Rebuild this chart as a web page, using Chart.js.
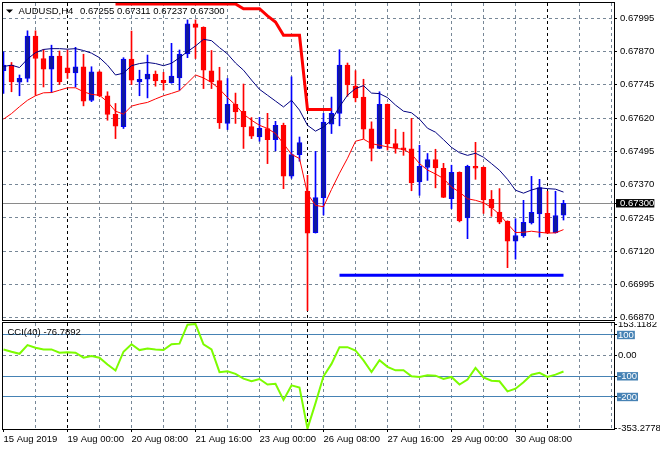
<!DOCTYPE html>
<html>
<head>
<meta charset="utf-8">
<script src="https://cdn.jsdelivr.net/npm/chart.js@4.4.0/dist/chart.umd.min.js"></script>
<style>
  html, body { margin: 0; padding: 0; background: #fff; }
  #wrap { position: relative; width: 660px; height: 450px; overflow: hidden; }
  #priceChart { position: absolute; left: 0; top: 0; }
  #cciChart { position: absolute; left: 0; top: 322px; }
</style>
</head>
<body>
<div id="wrap">
  <canvas id="priceChart" width="660" height="322"></canvas>
  <canvas id="cciChart" width="660" height="128"></canvas>
</div>
<script>
// AUDUSD H4, one bar every 4 hours (bar index 0..70)
const symbolName = 'AUDUSD,H4';
const lastQuote = ['0.67255', '0.67311', '0.67237', '0.67300'];

const openP = [
  0.67798, 0.67819, 0.67755, 0.67769, 0.67928, 0.67844, 0.67804, 0.67853, 0.67809, 0.67790,
  0.67813, 0.67686, 0.67794, 0.67704, 0.67634, 0.67588, 0.67842, 0.67756, 0.67766, 0.67785,
  0.67762, 0.67753, 0.67771, 0.67861, 0.67974, 0.67961, 0.67798, 0.67761, 0.67600, 0.67672,
  0.67645, 0.67588, 0.67549, 0.67581, 0.67539, 0.67593, 0.67402, 0.67483, 0.67346, 0.67190,
  0.67321, 0.67597, 0.67638, 0.67819, 0.67740, 0.67699, 0.67580, 0.67506, 0.67672, 0.67524,
  0.67508, 0.67505, 0.67380, 0.67435, 0.67464, 0.67431, 0.67317, 0.67416, 0.67245, 0.67439,
  0.67435, 0.67315, 0.67267, 0.67232, 0.67158, 0.67177, 0.67226, 0.67260, 0.67262, 0.67190,
  0.67255
];
const highP = [
  0.67869, 0.67829, 0.67782, 0.67948, 0.67948, 0.67878, 0.67894, 0.67872, 0.67876, 0.67886,
  0.67860, 0.67813, 0.67797, 0.67719, 0.67675, 0.67847, 0.67947, 0.67800, 0.67857, 0.67797,
  0.67792, 0.67901, 0.67876, 0.67989, 0.67989, 0.67963, 0.67874, 0.67811, 0.67769, 0.67714,
  0.67748, 0.67622, 0.67623, 0.67638, 0.67608, 0.67601, 0.67775, 0.67549, 0.67405, 0.67495,
  0.67638, 0.67699, 0.67877, 0.67827, 0.67798, 0.67766, 0.67606, 0.67719, 0.67673, 0.67578,
  0.67567, 0.67619, 0.67518, 0.67487, 0.67503, 0.67450, 0.67443, 0.67418, 0.67443, 0.67529,
  0.67437, 0.67348, 0.67355, 0.67234, 0.67242, 0.67311, 0.67401, 0.67390, 0.67345, 0.67345,
  0.67311
];
const lowP = [
  0.67713, 0.67719, 0.67704, 0.67756, 0.67706, 0.67737, 0.67716, 0.67746, 0.67769, 0.67737,
  0.67666, 0.67682, 0.67700, 0.67612, 0.67543, 0.67581, 0.67746, 0.67704, 0.67696, 0.67740,
  0.67725, 0.67751, 0.67725, 0.67847, 0.67844, 0.67731, 0.67731, 0.67581, 0.67577, 0.67600,
  0.67506, 0.67543, 0.67533, 0.67449, 0.67497, 0.67355, 0.67394, 0.67458, 0.66897, 0.67188,
  0.67256, 0.67562, 0.67591, 0.67702, 0.67681, 0.67543, 0.67459, 0.67505, 0.67500, 0.67488,
  0.67480, 0.67347, 0.67330, 0.67386, 0.67358, 0.67321, 0.67280, 0.67230, 0.67167, 0.67390,
  0.67262, 0.67251, 0.67223, 0.67058, 0.67090, 0.67172, 0.67222, 0.67173, 0.67187, 0.67188,
  0.67237
];
const closeP = [
  0.67819, 0.67756, 0.67769, 0.67928, 0.67844, 0.67804, 0.67853, 0.67756, 0.67790, 0.67813,
  0.67684, 0.67794, 0.67704, 0.67634, 0.67590, 0.67842, 0.67763, 0.67766, 0.67785, 0.67760,
  0.67753, 0.67778, 0.67861, 0.67974, 0.67961, 0.67800, 0.67756, 0.67602, 0.67672, 0.67643,
  0.67587, 0.67552, 0.67582, 0.67539, 0.67593, 0.67402, 0.67483, 0.67528, 0.67188, 0.67321,
  0.67605, 0.67638, 0.67819, 0.67745, 0.67696, 0.67578, 0.67506, 0.67672, 0.67523, 0.67508,
  0.67501, 0.67376, 0.67439, 0.67464, 0.67433, 0.67322, 0.67416, 0.67234, 0.67439, 0.67432,
  0.67313, 0.67283, 0.67229, 0.67158, 0.67179, 0.67228, 0.67266, 0.67359, 0.67189, 0.67254,
  0.67300
];

// moving average lines (navy above price, red below)
const maUpper = [
  0.67814, 0.67819, 0.67810, 0.67842, 0.67866, 0.67878, 0.67881, 0.67881, 0.67879, 0.67881,
  0.67874, 0.67864, 0.67847, 0.67819, 0.67782, 0.67789, 0.67817, 0.67825, 0.67829, 0.67825,
  0.67817, 0.67826, 0.67847, 0.67870, 0.67891, 0.67916, 0.67911, 0.67885, 0.67861, 0.67827,
  0.67800, 0.67763, 0.67728, 0.67706, 0.67684, 0.67662, 0.67687, 0.67650, 0.67593, 0.67571,
  0.67587, 0.67612, 0.67663, 0.67706, 0.67731, 0.67742, 0.67714, 0.67712, 0.67697, 0.67669,
  0.67646, 0.67640, 0.67616, 0.67582, 0.67567, 0.67539, 0.67510, 0.67490, 0.67480, 0.67488,
  0.67473, 0.67449, 0.67424, 0.67390, 0.67349, 0.67338, 0.67350, 0.67358, 0.67355, 0.67353,
  0.67342
];
const maLower = [
  0.67616, 0.67637, 0.67663, 0.67687, 0.67704, 0.67715, 0.67716, 0.67725, 0.67734, 0.67734,
  0.67719, 0.67709, 0.67706, 0.67681, 0.67646, 0.67635, 0.67665, 0.67673, 0.67679, 0.67692,
  0.67704, 0.67713, 0.67723, 0.67752, 0.67782, 0.67771, 0.67754, 0.67729, 0.67697, 0.67669,
  0.67635, 0.67612, 0.67593, 0.67581, 0.67562, 0.67524, 0.67484, 0.67468, 0.67336, 0.67292,
  0.67287, 0.67352, 0.67413, 0.67469, 0.67533, 0.67541, 0.67524, 0.67518, 0.67512, 0.67506,
  0.67503, 0.67485, 0.67449, 0.67425, 0.67410, 0.67393, 0.67361, 0.67342, 0.67317, 0.67311,
  0.67302, 0.67284, 0.67258, 0.67223, 0.67190, 0.67191, 0.67195, 0.67191, 0.67188, 0.67189,
  0.67201
];

// thick red stop line, only defined for bars 14..41
const stopLine = [
  null, null, null, null, null, null, null, null, null, null,
  null, null, null, null, 0.68049, 0.68049, 0.68049, 0.68049, 0.68049, 0.68049,
  0.68049, 0.68049, 0.68049, 0.68049, 0.68049, 0.68049, 0.68049, 0.68049, 0.68049, 0.68049,
  0.68031, 0.68031, 0.68031, 0.68004, 0.67981, 0.67931, 0.67931, 0.67931, 0.67652, 0.67652,
  0.67652, 0.67652, null, null, null, null, null, null, null, null,
  null, null, null, null, null, null, null, null, null, null,
  null, null, null, null, null, null, null, null, null, null,
  null
];

// horizontal support drawn from bar 42 to bar 70
const supportLevel = 0.67030;
const supportBars = [42, 70];
const bidPrice = 0.67300;

const cciValues = [
  30, 19, 9, 51, 38, 30, 30, 14, 17, 14,
  -10, -2, -10, -43, -72, 19, 55, 27, 35, 30,
  27, 55, 58, 150, 153.1182, 55, 30, -80, -76, -88,
  -111, -124, -113, -140, -136, -214, -144, -154, -353.2778, -230,
  -100, -40, 41, 41, 25, -23, -79, -22, -54, -71,
  -71, -100, -103, -95, -97, -113, -103, -140, -116, -59,
  -105, -121, -124, -173, -160, -129, -92, -83, -103, -92,
  -76.7892
];

const priceTicks = [0.66870, 0.66995, 0.67120, 0.67245, 0.67370, 0.67495, 0.67620, 0.67745, 0.67870, 0.67995];
const cciTicks = [153.1182, 100, 0, -100, -200, -353.2778];
const cciLevels = [100, -100, -200];
const timeLabels = ['15 Aug 2019', '19 Aug 00:00', '20 Aug 08:00', '21 Aug 16:00', '23 Aug 00:00',
  '26 Aug 08:00', '27 Aug 16:00', '29 Aug 00:00', '30 Aug 08:00'];
const timeLabelBars = [0, 8, 16, 24, 32, 40, 48, 56, 64];
const weekStarts = [8, 38, 68];

const GRID = '#778797';
const LEVEL = '#4682b4';
const BULL_BODY = '#10189e';
const BULL_LINE = '#0000ff';
const BEAR = '#ff0000';
const FONT_FAMILY = "'Liberation Sans', Arial, sans-serif";
const AXIS_FONT = { family: FONT_FAMILY, size: 9.5 };

Chart.defaults.font.family = FONT_FAMILY;
Chart.defaults.color = '#000';

const bars = closeP.map((c, i) => i);
const isBull = i => closeP[i] >= openP[i];

// no extra room for half labels at the axis ends
function noPadding(axis) {
  axis.paddingTop = 0;
  axis.paddingBottom = 0;
  axis.paddingLeft = 0;
  axis.paddingRight = 0;
}

// frame around each panel + caption text
const panelFrame = {
  id: 'panelFrame',
  afterDraw(chart, args, opts) {
    const { ctx, chartArea: a } = chart;
    ctx.save();
    ctx.strokeStyle = '#000';
    ctx.lineWidth = 1;
    ctx.strokeRect(a.left - 0.5, a.top - 0.5, a.right - a.left + 1, a.bottom - a.top + 1);
    ctx.fillStyle = '#000';
    ctx.font = '9.5px ' + FONT_FAMILY;
    (opts.captions || []).forEach(c => ctx.fillText(c.text, c.x, c.y));
    if (opts.marker) {
      ctx.beginPath();
      ctx.moveTo(6, 9.5);
      ctx.lineTo(13, 9.5);
      ctx.lineTo(9.5, 13);
      ctx.closePath();
      ctx.fill();
    }
    ctx.restore();
  }
};

function timeAxis(withLabels) {
  return {
    type: 'linear',
    min: -0.0625,
    max: 76.3125,
    offset: false,
    afterBuildTicks: axis => {
      const vals = new Set(weekStarts);
      for (let k = 0; k <= 76; k += 4) vals.add(k);
      axis.ticks = [...vals].sort((a, b) => a - b).map(v => ({ value: v }));
    },
    afterFit: axis => {
      axis.height = withLabels ? 21 : 0;
      noPadding(axis);
    },
    grid: {
      offset: false,
      color: c => weekStarts.includes(c.tick.value) ? '#000' : (c.tick.value === 0 ? 'rgba(0,0,0,0)' : GRID),
      drawTicks: withLabels,
      tickLength: 3,
      tickColor: c => timeLabelBars.includes(c.tick.value) ? '#000' : 'rgba(0,0,0,0)',
      tickBorderDash: []
    },
    border: { display: false, dash: [3, 3] },
    ticks: {
      display: withLabels,
      autoSkip: false,
      maxRotation: 0,
      align: 'start',
      padding: 1.5,
      font: AXIS_FONT,
      color: '#000',
      callback: v => {
        const j = timeLabelBars.indexOf(v);
        return j >= 0 ? timeLabels[j] : '';
      }
    }
  };
}

new Chart(document.getElementById('priceChart'), {
  type: 'bar',
  data: {
    datasets: [
      {
        type: 'line',
        data: supportBars.map(k => ({ x: k, y: supportLevel })),
        borderColor: '#0000ff',
        borderWidth: 3,
        pointRadius: 0,
        order: 1
      },
      {
        type: 'line',
        data: bars.filter(i => stopLine[i] !== null).map(i => ({ x: i, y: stopLine[i] })),
        borderColor: '#ff0000',
        borderWidth: 3,
        pointRadius: 0,
        order: 2
      },
      {
        type: 'line',
        data: bars.map(i => ({ x: i, y: maUpper[i] })),
        borderColor: '#000080',
        borderWidth: 1,
        pointRadius: 0,
        order: 3
      },
      {
        type: 'line',
        data: bars.map(i => ({ x: i, y: maLower[i] })),
        borderColor: '#ff0000',
        borderWidth: 1,
        pointRadius: 0,
        order: 4
      },
      {
        // candle bodies
        data: bars.map(i => ({ x: i, y: [openP[i], closeP[i]] })),
        grouped: false,
        barThickness: 5,
        minBarLength: 1,
        borderWidth: 1,
        borderSkipped: false,
        backgroundColor: c => isBull(c.dataIndex) ? BULL_BODY : BEAR,
        borderColor: c => isBull(c.dataIndex) ? BULL_LINE : BEAR,
        clip: 0,
        order: 5
      },
      {
        // wicks
        data: bars.map(i => ({ x: i, y: [lowP[i], highP[i]] })),
        grouped: false,
        barThickness: 1,
        borderWidth: 0,
        backgroundColor: c => isBull(c.dataIndex) ? BULL_LINE : BEAR,
        clip: 0,
        order: 6
      }
    ]
  },
  options: {
    responsive: false,
    animation: false,
    events: [],
    layout: { padding: { left: 3, top: 3, right: 0, bottom: 2 } },
    plugins: {
      legend: { display: false },
      tooltip: { enabled: false },
      panelFrame: {
        marker: true,
        captions: [
          { text: symbolName, x: 18.5, y: 14 },
          { text: lastQuote.join(' '), x: 80, y: 14 }
        ]
      }
    },
    scales: {
      x: timeAxis(false),
      y: {
        position: 'right',
        min: 0.668614,
        max: 0.680525,
        afterBuildTicks: axis => {
          axis.ticks = [...priceTicks, bidPrice].sort((a, b) => a - b).map(v => ({ value: v }));
        },
        afterFit: axis => {
          axis.width = 46;
          noPadding(axis);
        },
        grid: {
          color: c => c.tick.value === bidPrice ? '#8a8a8a' : GRID,
          tickLength: 3,
          tickColor: '#000',
          tickBorderDash: []
        },
        border: { display: false, dash: c => (c.tick && c.tick.value === bidPrice) ? [] : [3, 3] },
        ticks: {
          autoSkip: false,
          padding: 3,
          font: AXIS_FONT,
          color: c => c.tick.value === bidPrice ? '#fff' : '#000',
          callback: v => v.toFixed(5),
          showLabelBackdrop: c => c.tick.value === bidPrice,
          backdropColor: '#000',
          backdropPadding: { left: 4, right: 0, top: -1.5, bottom: -1.5 }
        }
      }
    }
  },
  plugins: [panelFrame]
});

new Chart(document.getElementById('cciChart'), {
  type: 'line',
  data: {
    datasets: [{
      data: bars.map(i => ({ x: i, y: cciValues[i] })),
      borderColor: '#7cfc00',
      borderWidth: 2,
      pointRadius: 0,
      tension: 0
    }]
  },
  options: {
    responsive: false,
    animation: false,
    events: [],
    layout: { padding: { left: 3, top: 1, right: 0, bottom: 0 } },
    plugins: {
      legend: { display: false },
      tooltip: { enabled: false },
      panelFrame: {
        captions: [{ text: 'CCI(40) -76.7892', x: 7.5, y: 13 }]
      }
    },
    scales: {
      x: timeAxis(true),
      y: {
        position: 'right',
        min: -355,
        max: 158,
        afterBuildTicks: axis => { axis.ticks = cciTicks.map(v => ({ value: v })); },
        afterFit: axis => {
          axis.width = 46;
          noPadding(axis);
        },
        grid: {
          color: c => {
            const v = c.tick.value;
            if (cciLevels.includes(v)) return LEVEL;
            if (v === 0) return GRID;
            return 'rgba(0,0,0,0)';
          },
          tickLength: 3,
          tickColor: '#000',
          tickBorderDash: []
        },
        border: { display: false, dash: c => (c.tick && c.tick.value === 0) ? [3, 3] : [] },
        ticks: {
          autoSkip: false,
          padding: 1,
          font: AXIS_FONT,
          color: c => cciLevels.includes(c.tick.value) ? '#fff' : '#000',
          callback: v => v === 0 ? '0.00' : (Number.isInteger(v) ? String(v) : v.toFixed(4)),
          showLabelBackdrop: c => cciLevels.includes(c.tick.value),
          backdropColor: LEVEL,
          backdropPadding: { left: 1, right: 1, top: -1.5, bottom: -1.5 }
        }
      }
    }
  },
  plugins: [panelFrame]
});
</script>
</body>
</html>
